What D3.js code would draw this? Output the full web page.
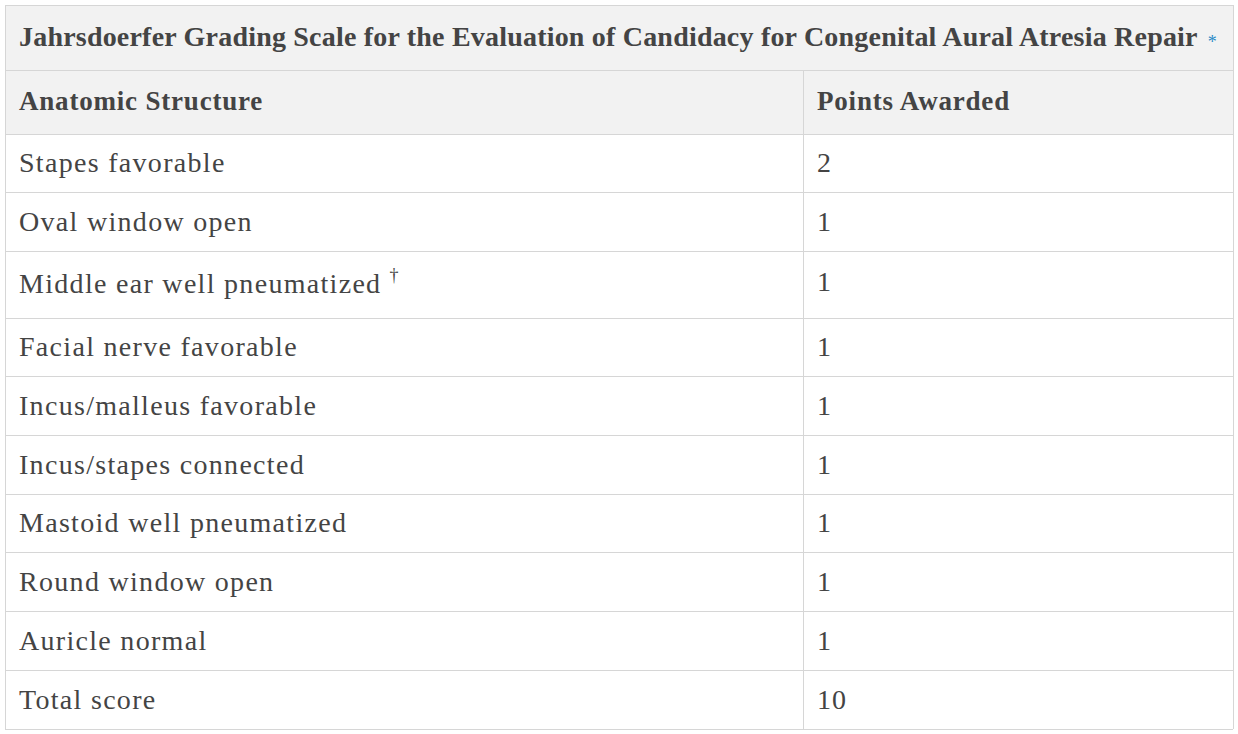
<!DOCTYPE html>
<html><head><meta charset="utf-8">
<script src="https://cdn.jsdelivr.net/npm/d3@7"></script>
<style>body{margin:0;background:#fff}</style></head>
<body><svg id="c" width="1238" height="734"></svg>
<script>
const title = "Jahrsdoerfer Grading Scale for the Evaluation of Candidacy for Congenital Aural Atresia Repair";
const headers = ["Anatomic Structure", "Points Awarded"];
const structures = ["Stapes favorable","Oval window open","Middle ear well pneumatized","Facial nerve favorable","Incus/malleus favorable","Incus/stapes connected","Mastoid well pneumatized","Round window open","Auricle normal","Total score"];
const points = ["2","1","1","1","1","1","1","1","1","10"];
const footnotes = ["","","†","","","","","","",""];

const svg = d3.select("#c");
const L=5, R=1233, colX=803;
const font = "'Liberation Serif', serif";
const col = "#444";
const bounds = [5,70,134,192,251,318,376,435,494,552,611,670,729];
const line = "#d6d6d6";
svg.append("rect").attr("x",L).attr("y",bounds[0]).attr("width",R-L).attr("height",bounds[2]-bounds[0]).attr("fill","#f2f2f2");
svg.selectAll("line.h").data(bounds).join("line").attr("x1",L).attr("x2",R).attr("y1",d=>d+0.5).attr("y2",d=>d+0.5).attr("stroke",line);
[L,R].forEach(x=>svg.append("line").attr("x1",x+0.5).attr("x2",x+0.5).attr("y1",bounds[0]).attr("y2",bounds[12]).attr("stroke",line));
svg.append("line").attr("x1",colX+0.5).attr("x2",colX+0.5).attr("y1",bounds[1]).attr("y2",bounds[12]).attr("stroke",line);

const t = svg.append("text").attr("x",19).attr("y",46).attr("font-family",font).attr("font-size",28).attr("font-weight","bold").attr("letter-spacing",0.2).attr("fill",col).text(title);
t.append("tspan").attr("dx",10).attr("dy",2).attr("font-size",18).attr("font-weight","normal").attr("fill","#2a8ac7").text("*");

svg.selectAll("text.hd").data(headers).join("text").attr("x",(d,i)=>i?817:19).attr("y",110).attr("font-family",font).attr("font-size",27).attr("font-weight","bold").attr("letter-spacing",0.8).attr("fill",col).text(d=>d);

structures.forEach((s,i)=>{
  const y0=bounds[i+2], y1=bounds[i+3];
  const y = i===2 ? y0+42 : (y0+y1)/2+9;
  const tx = svg.append("text").attr("x",19).attr("y",y).attr("font-family",font).attr("font-size",28).attr("letter-spacing",1.3).attr("fill",col).text(s);
  if(footnotes[i]) tx.append("tspan").attr("dx",8).attr("dy",-12).attr("font-size",18).text(footnotes[i]);
  svg.append("text").attr("x",817).attr("y",i===2? y0+40 : (y0+y1)/2+9).attr("font-family",font).attr("font-size",28).attr("letter-spacing",1).attr("fill",col).text(points[i]);
});
</script></body></html>
